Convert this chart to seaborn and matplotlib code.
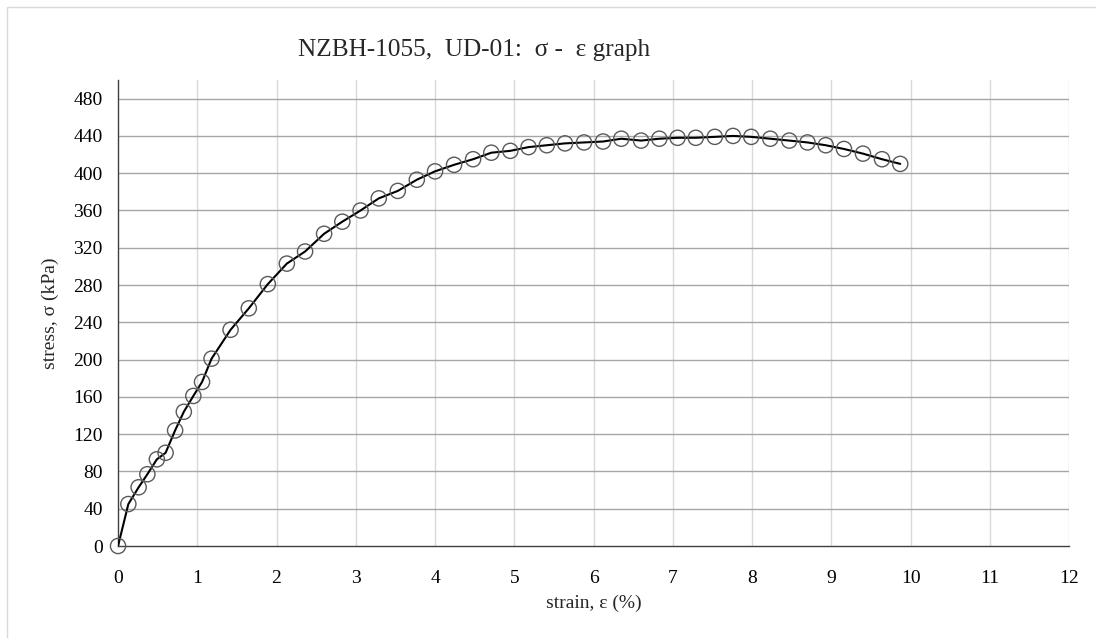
import numpy as np
import pandas as pd
import matplotlib
matplotlib.use("Agg")
import matplotlib.pyplot as plt
from matplotlib.ticker import MultipleLocator
from matplotlib.patches import Rectangle
import seaborn as sns

# strain (%) and stress (kPa)
strain = [0.00, 0.13, 0.26, 0.37, 0.49, 0.60, 0.72, 0.83, 0.95, 1.06,
          1.18, 1.42, 1.65, 1.89, 2.13, 2.36, 2.60, 2.83, 3.06, 3.29,
          3.53, 3.77, 4.00, 4.24, 4.48, 4.71, 4.95, 5.18, 5.41, 5.64,
          5.88, 6.12, 6.35, 6.60, 6.83, 7.06, 7.29, 7.53, 7.76, 7.99,
          8.23, 8.47, 8.70, 8.93, 9.16, 9.40, 9.64, 9.87]
stress = [0, 45, 63, 77, 93, 100, 124, 144, 161, 176,
          201, 232, 255, 281, 303, 316, 335, 348, 360, 373,
          381, 393, 402, 409, 415, 422, 424, 428, 430, 432,
          433, 434, 437, 435, 437, 438, 438, 439, 440, 439,
          437, 435, 433, 430, 426, 421, 415, 410]

title = "NZBH-1055,  UD-01:  \u03c3 -  \u03b5 graph"
xlabel = "strain, \u03b5 (%)"
ylabel = "stress, \u03c3 (kPa)"

df = pd.DataFrame({"strain": strain, "stress": stress})

sns.set_theme(style="white")
plt.rcParams["font.family"] = ["Liberation Serif", "DejaVu Serif"]

fig = plt.figure(figsize=(10.96, 6.38), dpi=100)
ax = fig.add_axes([0.1077, 0.1442, 0.9754 - 0.1077, 0.8746 - 0.1442])

sns.lineplot(data=df, x="strain", y="stress", color="black", linewidth=1.5,
             sort=False, ax=ax, zorder=3)
sns.scatterplot(data=df, x="strain", y="stress", marker="o", s=120,
                facecolor="none", edgecolor="#5a5a5a", linewidth=1.0,
                ax=ax, zorder=4, clip_on=False)

ax.set_xlim(0, 12)
ax.set_ylim(0, 500)
ax.xaxis.set_major_locator(MultipleLocator(1))
ax.xaxis.set_minor_locator(MultipleLocator(0.25))
ax.set_yticks(np.arange(0, 481, 40))
ax.yaxis.set_minor_locator(MultipleLocator(10))

ax.grid(False)
for v in range(1, 13):
    ax.axvline(v, color="#d9d9d9", linewidth=1.0, zorder=0)
for h in range(40, 481, 40):
    ax.axhline(h, color="#a6a6a6", linewidth=1.0, zorder=0)

for s in ["top", "right"]:
    ax.spines[s].set_visible(False)
for s in ["left", "bottom"]:
    ax.spines[s].set_color("#404040")
    ax.spines[s].set_linewidth(1.0)

ax.tick_params(axis="both", which="both", direction="in", color="#404040",
               labelsize=14, labelcolor="black")
ax.tick_params(axis="both", which="major", length=6, width=1.0)
ax.tick_params(axis="both", which="minor", length=5, width=1.0)
ax.tick_params(axis="x", which="major", pad=17)
ax.tick_params(axis="y", which="major", pad=11)

ax.set_xlabel(xlabel, fontsize=14, labelpad=6)
ax.set_ylabel(ylabel, fontsize=14, labelpad=10)

fig.text(0.4325, 0.922, title, fontsize=18.2, ha="center", va="center")

fig.patches.append(Rectangle((7 / 1096, -0.05), 1.2, 1.05 - 7 / 638,
                             transform=fig.transFigure, fill=False,
                             edgecolor="#d9d9d9", linewidth=1.0))

plt.savefig("out.png", dpi=100)
plt.close()
